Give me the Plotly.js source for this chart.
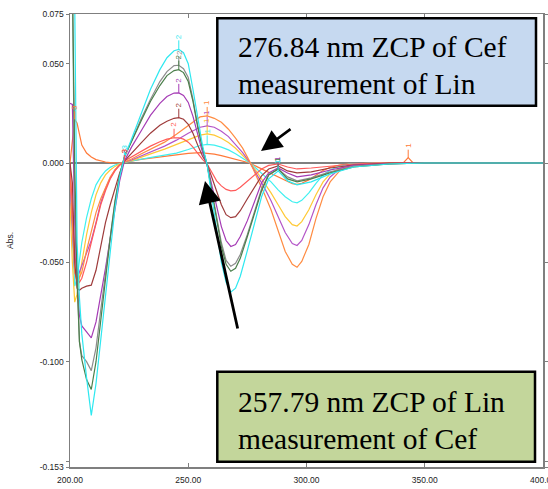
<!DOCTYPE html>
<html><head><meta charset="utf-8">
<script src="https://cdn.plot.ly/plotly-3.0.1.min.js"></script>
<style>html,body{margin:0;padding:0;background:#fff}#chart{width:548px;height:489px}</style>
</head><body><div id="chart"></div>
<script>
// ---- Group A (zero crossing at 257.79 nm) ----
const wlA = [200, 201, 202, 203, 204, 205, 207, 209, 211, 213, 215, 217, 219, 221, 223, 226, 230, 234, 238, 241, 244, 246, 248, 250, 252, 254, 256, 258, 260, 262, 264, 266, 268, 270, 272, 275, 278, 281, 284, 288, 292, 296, 302, 310, 320, 335, 350, 400];
const cyanA = [0.12, 0.12, 0.08, -0.04, -0.068, -0.086, -0.108, -0.127, -0.111, -0.089, -0.066, -0.044, -0.023, -0.007, 0.003, 0.012, 0.025, 0.037, 0.047, 0.053, 0.0565, 0.0572, 0.0555, 0.05, 0.037, 0.022, 0.009, -0.001, -0.018, -0.035, -0.05, -0.06, -0.065, -0.063, -0.057, -0.044, -0.03, -0.017, -0.008, -0.004, -0.009, -0.011, -0.0095, -0.0055, -0.002, -0.0005, 0, 0];
const greenA = [0.1, 0.095, 0.0, -0.06, -0.09, -0.099, -0.109, -0.114, -0.1, -0.079, -0.058, -0.038, -0.02, -0.006, 0.003, 0.011, 0.021, 0.031, 0.039, 0.044, 0.0465, 0.047, 0.0455, 0.041, 0.031, 0.018, 0.0075, -0.001, -0.015, -0.029, -0.042, -0.051, -0.0545, -0.053, -0.048, -0.037, -0.025, -0.014, -0.006, -0.003, -0.008, -0.0095, -0.008, -0.005, -0.002, -0.0005, 0, 0];
const grayA = [0.1, 0.09, -0.02, -0.06, -0.09, -0.097, -0.1, -0.1045, -0.093, -0.074, -0.055, -0.036, -0.019, -0.006, 0.003, 0.011, 0.022, 0.032, 0.041, 0.046, 0.049, 0.0492, 0.0475, 0.043, 0.032, 0.019, 0.008, -0.001, -0.0145, -0.028, -0.04, -0.049, -0.052, -0.0505, -0.046, -0.036, -0.024, -0.013, -0.006, -0.003, -0.007, -0.009, -0.0075, -0.0045, -0.0015, -0.0004, 0, 0];
const purpleA = [0.03, 0.0295, -0.03, -0.06, -0.077, -0.082, -0.085, -0.088, -0.08, -0.067, -0.053, -0.038, -0.023, -0.009, 0.001, 0.008, 0.016, 0.024, 0.03, 0.0335, 0.0352, 0.0353, 0.034, 0.0305, 0.0235, 0.014, 0.0055, -0.001, -0.011, -0.022, -0.032, -0.039, -0.042, -0.041, -0.037, -0.029, -0.019, -0.01, -0.005, -0.0025, -0.005, -0.007, -0.006, -0.0035, -0.0012, -0.0003, 0, 0];
const brownA = [0.0, -0.01, -0.05, -0.063, -0.064, -0.063, -0.062, -0.0615, -0.054, -0.042, -0.03, -0.021, -0.013, -0.005, 0.001, 0.005, 0.01, 0.015, 0.019, 0.021, 0.0225, 0.0228, 0.022, 0.0195, 0.015, 0.009, 0.0035, -0.0005, -0.007, -0.014, -0.021, -0.026, -0.0275, -0.027, -0.024, -0.018, -0.012, -0.0065, -0.003, -0.0015, -0.004, -0.005, -0.0045, -0.0025, -0.001, 0, 0, 0];
const redA = [0.0, -0.02, -0.045, -0.058, -0.06, -0.058, -0.05, -0.04, -0.03, -0.021, -0.014, -0.008, -0.004, -0.001, 0.001, 0.003, 0.006, 0.0085, 0.0107, 0.012, 0.0127, 0.0127, 0.012, 0.0105, 0.008, 0.0048, 0.0018, -0.0005, -0.005, -0.009, -0.0115, -0.0133, -0.014, -0.0138, -0.0122, -0.009, -0.0058, -0.003, -0.0012, -0.0005, -0.002, -0.003, -0.0025, -0.0015, -0.0005, 0, 0, 0];

// ---- Group B (zero crossing at 276.84 nm) ----
const wlB = [200, 201, 202, 203, 205, 207, 209, 211, 213, 215, 217, 219, 221, 223, 226, 230, 235, 240, 245, 250, 255, 258, 261, 264, 267, 270, 273, 276, 279, 282, 285, 288, 291, 294, 296, 298, 301, 304, 307, 310, 314, 318, 324, 330, 336, 341, 343, 345, 352, 370, 400];
const orangeB = [-0.005, -0.03, -0.055, -0.06, -0.055, -0.044, -0.034, -0.025, -0.018, -0.012, -0.007, -0.0035, -0.001, 0.0005, 0.002, 0.0045, 0.0075, 0.0105, 0.0145, 0.019, 0.0232, 0.0237, 0.0225, 0.0205, 0.017, 0.0125, 0.0075, 0.0007, -0.007, -0.015, -0.0235, -0.034, -0.0445, -0.051, -0.0525, -0.0495, -0.041, -0.028, -0.017, -0.0095, -0.004, -0.0015, -0.0005, 0, 0, 0, 0, 0, 0, 0, 0];
const magentaB = [-0.01, -0.035, -0.055, -0.058, -0.052, -0.045, -0.039, -0.03, -0.02, -0.013, -0.0075, -0.0035, -0.001, 0.0005, 0.0015, 0.0035, 0.006, 0.0085, 0.0115, 0.015, 0.018, 0.0187, 0.018, 0.016, 0.0133, 0.0095, 0.0052, 0.0003, -0.0055, -0.012, -0.019, -0.027, -0.035, -0.0405, -0.0415, -0.039, -0.031, -0.021, -0.0125, -0.007, -0.003, -0.001, -0.0003, 0, 0, 0, 0, 0, 0, 0, 0];
const yellowB = [-0.02, -0.05, -0.07, -0.066, -0.05, -0.036, -0.025, -0.016, -0.01, -0.006, -0.0035, -0.0017, -0.0005, 0.0004, 0.0012, 0.003, 0.005, 0.007, 0.0093, 0.012, 0.014, 0.0147, 0.014, 0.0125, 0.0103, 0.0074, 0.004, 0.0002, -0.0045, -0.0095, -0.015, -0.021, -0.027, -0.031, -0.0317, -0.0295, -0.0235, -0.016, -0.0095, -0.0055, -0.0025, -0.001, -0.0003, 0, 0, 0, 0, 0, 0, 0, 0];
const cyanB = [-0.01, -0.04, -0.062, -0.058, -0.04, -0.0275, -0.018, -0.011, -0.007, -0.004, -0.0022, -0.001, -0.0003, 0.0003, 0.001, 0.002, 0.003, 0.004, 0.005, 0.0068, 0.0088, 0.0094, 0.009, 0.008, 0.0066, 0.0047, 0.0025, 0.0001, -0.003, -0.0062, -0.0095, -0.0135, -0.017, -0.0195, -0.02, -0.0188, -0.015, -0.0102, -0.006, -0.0035, -0.0016, -0.0006, -0.0002, 0, 0, 0, 0, 0, 0, 0, 0];
const orange2B = [0.0, 0.012, 0.022, 0.02, 0.009, 0.005, 0.003, 0.0017, 0.001, 0.0005, 0.0002, 0.0, 0.0, 0.0003, 0.001, 0.0018, 0.0026, 0.0034, 0.0042, 0.0049, 0.0052, 0.005, 0.0045, 0.0037, 0.0028, 0.0018, 0.0008, 0.0, -0.0018, -0.0035, -0.0053, -0.0072, -0.009, -0.0104, -0.0107, -0.0102, -0.0085, -0.006, -0.0038, -0.0022, -0.001, -0.0004, -0.0001, 0, 0, 0.0002, 0.0027, 0.0002, 0, 0, 0];

// ---- axes ----
const xTickVals = [200, 250, 300, 350, 400];
const xTickText = ['200.00', '250.00', '300.00', '350.00', '400.00'];
const yTickVals = [0.075, 0.05, 0, -0.05, -0.1, -0.15, -0.153];
const yTickText = ['0.075', '0.050', '0.000', '-0.050', '-0.100', '', '-0.153'];
const xTitle = 'nm';
const yTitle = 'Abs.';
const boxTextTop = ['276.84 nm ZCP of Cef', 'measurement of Lin'];
const boxTextBottom = ['257.79 nm ZCP of Lin', 'measurement of Cef'];

const seriesA = [
  {y: redA, color: '#ff5a5a'},
  {y: brownA, color: '#9e3b3b'},
  {y: purpleA, color: '#a53bb5'},
  {y: grayA, color: '#8c8c8c'},
  {y: greenA, color: '#4b7f4b'},
  {y: cyanA, color: '#2ee8f0'}
];
const seriesB = [
  {y: orange2B, color: '#ff7a3a'},
  {y: cyanB, color: '#3ff0f0'},
  {y: yellowB, color: '#ffc935'},
  {y: magentaB, color: '#b455c8'},
  {y: orangeB, color: '#ff8c42'}
];

const traces = [];
seriesB.forEach(s => traces.push({x: wlB, y: s.y, type: 'scatter', mode: 'lines', line: {color: s.color, width: 1.2}, hoverinfo: 'skip'}));
seriesA.forEach(s => traces.push({x: wlA, y: s.y, type: 'scatter', mode: 'lines', line: {color: s.color, width: 1.2}, hoverinfo: 'skip'}));

function peakIn(xs, ys, lo, hi) {
  let bi = -1;
  for (let i = 0; i < xs.length; i++) {
    if (xs[i] >= lo && xs[i] <= hi && (bi < 0 || ys[i] > ys[bi])) bi = i;
  }
  return [xs[bi], ys[bi]];
}
function valAt(xs, ys, xq) { const i = xs.indexOf(xq); return [xq, ys[i]]; }
function mark(pt, text, color, ay) {
  return {x: pt[0], y: pt[1], xref: 'x', yref: 'y', text: text, textangle: -90,
    showarrow: true, arrowhead: 0, arrowwidth: 1, arrowcolor: color, ax: 0, ay: ay,
    font: {family: 'Arial', size: 8, color: color}};
}

const tickFont = {family: 'Arial, Liberation Sans, sans-serif', size: 8.5, color: '#222'};
const annotations = [];
seriesA.forEach(s => annotations.push(mark(peakIn(wlA, s.y, 235, 255), '2', s.color, -13)));
seriesB.slice(1).forEach(s => annotations.push(mark(peakIn(wlB, s.y, 250, 265), '1', s.color, -13)));
annotations.push(mark(peakIn(wlB, orange2B, 200, 206), '3', '#ff7a3a', -12));
annotations.push(mark(peakIn(wlB, orange2B, 335, 350), '1', '#ff7a3a', -12));
[cyanA, brownA, redA].forEach(ys => annotations.push(mark(valAt(wlA, ys, 223), '3', seriesA.find(s => s.y === ys).color, -10)));
[purpleA, greenA, cyanA].forEach(ys => annotations.push(mark(peakIn(wlA, ys, 284, 290), '1', seriesA.find(s => s.y === ys).color, -9)));

// x-axis title (mostly below the visible area, as in the reference)
annotations.push({xref: 'paper', yref: 'paper', x: 0.5, y: -0.0397, xanchor: 'center', yanchor: 'top', text: xTitle, showarrow: false, font: tickFont});

// text boxes
const serif = {family: 'Liberation Serif, Times New Roman, serif', size: 29.5, color: '#000'};
annotations.push({xref: 'paper', yref: 'paper', x: 0.350, y: 0.9267, xanchor: 'left', yanchor: 'middle', text: boxTextTop[0], showarrow: false, font: serif});
annotations.push({xref: 'paper', yref: 'paper', x: 0.350, y: 0.8459, xanchor: 'left', yanchor: 'middle', text: boxTextTop[1], showarrow: false, font: serif});
annotations.push({xref: 'paper', yref: 'paper', x: 0.350, y: 0.1430, xanchor: 'left', yanchor: 'middle', text: boxTextBottom[0], showarrow: false, font: serif});
annotations.push({xref: 'paper', yref: 'paper', x: 0.350, y: 0.0623, xanchor: 'left', yanchor: 'middle', text: boxTextBottom[1], showarrow: false, font: serif});

// black arrows
annotations.push({xref: 'paper', yref: 'paper', x: 0.4038, y: 0.6976, ax: 31, ay: -23, text: '', showarrow: true, arrowhead: 2, arrowsize: 1.6, arrowwidth: 2.6, arrowcolor: '#000'});
annotations.push({xref: 'paper', yref: 'paper', x: 0.2854, y: 0.6313, ax: 33, ay: 149, text: '', showarrow: true, arrowhead: 2, arrowsize: 1.6, arrowwidth: 2.8, arrowcolor: '#000'});

const shapes = [
  {type: 'rect', xref: 'paper', yref: 'paper', x0: 0.3114, x1: 0.9852, y0: 0.7976, y1: 0.9905, fillcolor: '#c6d9f0', line: {color: '#000', width: 2.5}, layer: 'above'},
  {type: 'rect', xref: 'paper', yref: 'paper', x0: 0.3114, x1: 0.9831, y0: 0.0117, y1: 0.2104, fillcolor: '#c3d69b', line: {color: '#000', width: 2.5}, layer: 'above'}
];

const layout = {
  width: 548, height: 489,
  margin: {l: 70, r: 5, t: 14, b: 22},
  paper_bgcolor: '#fff', plot_bgcolor: '#fff',
  showlegend: false, hovermode: false,
  xaxis: {range: [200, 400], tickvals: xTickVals, ticktext: xTickText, ticks: 'inside', ticklen: 4, tickcolor: '#7f7f7f',
    showline: true, linecolor: '#7f7f7f', linewidth: 1.5, mirror: 'ticks', showgrid: false, zeroline: false,
    tickfont: tickFont, ticklabelstandoff: 4, ticklabeloverflow: 'allow', automargin: false},
  yaxis: {range: [-0.153, 0.075], tickvals: yTickVals, ticktext: yTickText, ticks: 'outside', ticklen: 3, tickcolor: '#7f7f7f',
    showline: true, linecolor: '#7f7f7f', linewidth: 1.5, mirror: 'ticks', showgrid: false,
    zeroline: true, zerolinecolor: '#808080', zerolinewidth: 2,
    tickfont: tickFont, automargin: false,
    title: {text: yTitle, font: tickFont, standoff: 24}},
  annotations: annotations,
  shapes: shapes
};
Plotly.newPlot('chart', traces, layout, {staticPlot: true, displayModeBar: false});
</script></body></html>
